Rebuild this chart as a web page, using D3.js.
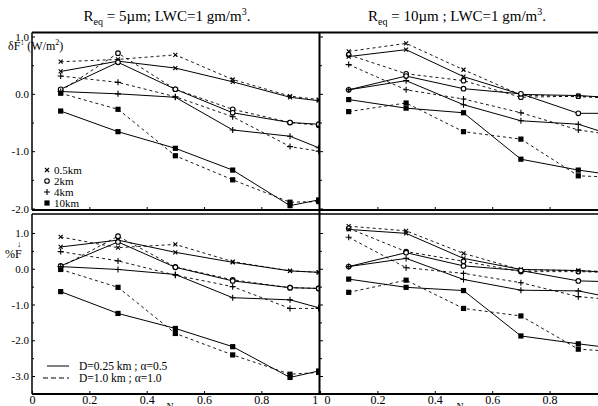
<!DOCTYPE html>
<html>
<head>
<meta charset="utf-8">
<script src="https://cdn.jsdelivr.net/npm/d3@7"></script>
<style>
  body { margin: 0; background: #fff; }
  text { font-family: "Liberation Serif", "DejaVu Serif", serif; fill: #000; }
</style>
</head>
<body>
<div id="chart"></div>
<script>
// N values (cloud fraction) sampled in every panel
const nValues = [0.1, 0.3, 0.5, 0.7, 0.9, 1.0];
const heights = ["0.5km", "2km", "4km", "10km"];

// top left: dF (W/m2), Req = 5um ; rows = 0.5, 2, 4, 10 km
const fluxR5Solid = [
  [0.39, 0.57, 0.45, 0.21, -0.06, -0.12],
  [0.08, 0.55, 0.08, -0.33, -0.50, -0.53],
  [0.04, 0.00, -0.06, -0.63, -0.74, -0.94],
  [-0.30, -0.66, -0.95, -1.33, -1.95, -1.85]
];
const fluxR5Dashed = [
  [0.56, 0.60, 0.68, 0.25, -0.04, -0.10],
  [0.05, 0.71, 0.08, -0.27, -0.50, -0.55],
  [0.31, 0.20, -0.05, -0.40, -0.92, -1.00],
  [0.01, -0.27, -1.08, -1.50, -1.89, -1.88]
];
// top right: dF (W/m2), Req = 10um
const fluxR10Solid = [
  [0.65, 0.77, 0.30, -0.01, -0.03, -0.06],
  [0.07, 0.31, 0.09, 0.00, -0.34, -0.34],
  [0.07, 0.23, -0.19, -0.47, -0.53, -0.69],
  [-0.10, -0.25, -0.33, -1.14, -1.33, -1.40]
];
const fluxR10Dashed = [
  [0.74, 0.88, 0.42, -0.02, -0.05, -0.07],
  [0.68, 0.35, 0.23, -0.06, -0.04, -0.06],
  [0.51, 0.07, -0.09, -0.33, -0.63, -0.70],
  [-0.31, -0.16, -0.66, -0.79, -1.43, -1.45]
];
// bottom left: %F, Req = 5um
const pctR5Solid = [
  [0.61, 0.80, 0.46, 0.18, -0.06, -0.10],
  [0.08, 0.75, 0.04, -0.34, -0.53, -0.55],
  [0.06, -0.02, -0.16, -0.81, -0.87, -1.09],
  [-0.64, -1.25, -1.67, -2.18, -3.04, -2.86]
];
const pctR5Dashed = [
  [0.89, 0.59, 0.68, 0.20, -0.06, -0.10],
  [0.05, 0.91, 0.05, -0.31, -0.53, -0.55],
  [0.48, 0.22, -0.18, -0.50, -1.11, -1.11],
  [-0.02, -0.52, -1.81, -2.41, -2.95, -2.90]
];
// bottom right: %F, Req = 10um
const pctR10Solid = [
  [1.10, 0.99, 0.29, -0.02, -0.05, -0.10],
  [0.06, 0.45, 0.08, -0.05, -0.34, -0.36],
  [0.06, 0.29, -0.30, -0.60, -0.62, -0.78],
  [-0.29, -0.52, -0.61, -1.88, -2.10, -2.20]
];
const pctR10Dashed = [
  [1.19, 1.06, 0.43, -0.03, -0.05, -0.08],
  [1.13, 0.48, 0.21, -0.08, -0.08, -0.10],
  [0.88, 0.03, -0.13, -0.39, -0.78, -0.85],
  [-0.66, -0.32, -1.11, -1.32, -2.25, -2.30]
];

const xTicks = [0, 0.2, 0.4, 0.6, 0.8, 1];
const yTopTicks = [1, 0, -1, -2];
const yTopMinor = [0.5, -0.5, -1.5];
const yBotTicks = [1, 0, -1, -2, -3];
const yBotMinor = [0.5, -0.5, -1.5, -2.5];

const W = 598, H = 406;
const svg = d3.select("#chart").append("svg").attr("width", W).attr("height", H);

// scales
const xLeft = d3.scaleLinear().domain([0, 1]).range([32, 318.7]);
const xRight = d3.scaleLinear().domain([0, 1]).range([320, 607]);
const yTop = d3.scaleLinear().domain([-2, 1]).range([208.5, 36.5]);
const yBot = d3.scaleLinear().domain([-3, 1]).range([376, 233]);

const panels = [
  { id: "tl", solid: fluxR5Solid, dashed: fluxR5Dashed, x: xLeft, y: yTop, box: [32, 33, 287, 177] },
  { id: "tr", solid: fluxR10Solid, dashed: fluxR10Dashed, x: xRight, y: yTop, box: [320, 33, 278, 177] },
  { id: "bl", solid: pctR5Solid, dashed: pctR5Dashed, x: xLeft, y: yBot, box: [32, 214, 287, 180] },
  { id: "br", solid: pctR10Solid, dashed: pctR10Dashed, x: xRight, y: yBot, box: [320, 214, 278, 180] }
];

const defs = svg.append("defs");

function drawMarker(g, type, cx, cy) {
  if (type == 0) {
    g.append("path").attr("d", `M${cx-2},${cy-2}L${cx+2},${cy+2}M${cx-2},${cy+2}L${cx+2},${cy-2}`)
      .attr("stroke", "#000").attr("stroke-width", 1.1);
  } else if (type == 1) {
    g.append("circle").attr("cx", cx).attr("cy", cy).attr("r", 2.3)
      .attr("fill", "#fff").attr("stroke", "#000").attr("stroke-width", 1.1);
  } else if (type == 2) {
    g.append("path").attr("d", `M${cx-3},${cy}L${cx+3},${cy}M${cx},${cy-3}L${cx},${cy+3}`)
      .attr("stroke", "#000").attr("stroke-width", 1.1);
  } else {
    g.append("rect").attr("x", cx - 2.6).attr("y", cy - 2.6).attr("width", 5.2).attr("height", 5.2)
      .attr("fill", "#000");
  }
}

panels.forEach(p => {
  defs.append("clipPath").attr("id", "clip-" + p.id)
    .append("rect").attr("x", p.box[0]).attr("y", p.box[1]).attr("width", p.box[2]).attr("height", p.box[3]);

  const g = svg.append("g").attr("clip-path", `url(#clip-${p.id})`);
  const line = d3.line().x((d, i) => p.x(nValues[i])).y(d => p.y(d));

  [["dashed", p.dashed], ["solid", p.solid]].forEach(([style, rows]) => {
    rows.forEach((vals, h) => {
      g.append("path")
        .attr("d", line(vals))
        .attr("fill", "none")
        .attr("stroke", "#000")
        .attr("stroke-width", style == "solid" ? 1 : 0.9)
        .attr("stroke-dasharray", style == "solid" ? null : "3,3");
      vals.forEach((v, i) => drawMarker(g, h, p.x(nValues[i]), p.y(v)));
    });
  });
});

// axes
function leftAxis(y, major, minor, xPos, labels) {
  svg.append("g").attr("transform", `translate(${xPos},0)`)
    .call(d3.axisLeft(y).tickValues(major).tickSize(-3).tickPadding(3)
      .tickFormat(labels ? (d => d.toFixed(1)) : ""))
    .call(g => g.select(".domain").remove())
    .call(g => g.selectAll("text").style("font-size", "11px").style("font-family", "Liberation Serif"));
  svg.append("g").attr("transform", `translate(${xPos},0)`)
    .call(d3.axisLeft(y).tickValues(minor).tickSize(-2).tickFormat(""))
    .call(g => g.select(".domain").remove());
}
leftAxis(yTop, yTopTicks, yTopMinor, 32, true);
leftAxis(yBot, yBotTicks, yBotMinor, 32, true);
leftAxis(yTop, yTopTicks, yTopMinor, 320, false);
leftAxis(yBot, yBotTicks, yBotMinor, 320, false);

function bottomAxis(x, yPos, labels, ticks, shiftFirst, shiftLast) {
  const ax = svg.append("g").attr("transform", `translate(0,${yPos})`)
    .call(d3.axisBottom(x).tickValues(ticks).tickSize(-3).tickPadding(1)
      .tickFormat(labels ? (d => (d == 0 || d == 1) ? String(d) : d.toFixed(1)) : ""))
    .call(g => g.select(".domain").remove());
  ax.selectAll("text").style("font-size", "12px").style("font-family", "Liberation Serif");
  ax.selectAll("text").filter(d => d == 0).attr("dx", shiftFirst);
  ax.selectAll("text").filter(d => d == 1).attr("dx", shiftLast);
}
bottomAxis(xLeft, 210, false, xTicks.slice(1, 5), 0, 0);
bottomAxis(xRight, 210, false, xTicks.slice(1, 5), 0, 0);
bottomAxis(xLeft, 394, true, xTicks, 0, -4);
bottomAxis(xRight, 394, true, xTicks.slice(0, 5), 7, 0);

// frame
const frame = [
  [32, 32.5, 598, 32.5, 2],
  [32, 210, 598, 210, 2],
  [32, 214, 598, 214, 1.5],
  [32, 394, 598, 394, 2],
  [32, 32.5, 32, 210, 1.5],
  [32, 214, 32, 394, 1.5],
  [319.5, 32.5, 319.5, 394, 2]
];
svg.selectAll(".frame").data(frame).enter().append("line")
  .attr("x1", d => d[0]).attr("y1", d => d[1]).attr("x2", d => d[2]).attr("y2", d => d[3])
  .attr("stroke", "#000").attr("stroke-width", d => d[4]);

// titles
function title(cx, r) {
  const t = svg.append("text").attr("x", cx).attr("y", 21).attr("text-anchor", "middle").style("font-size", "15px");
  t.append("tspan").text("R");
  t.append("tspan").attr("dy", 4).style("font-size", "10px").text("eq");
  t.append("tspan").attr("dy", -4).text(r);
  t.append("tspan").attr("dy", -6).style("font-size", "10px").text("3");
  t.append("tspan").attr("dy", 6).text(".");
}
title(167, " = 5\u00b5m; LWC=1 gm/m");
title(457, " = 10\u00b5m ; LWC=1 gm/m");

// y titles
const yt1 = svg.append("text").attr("x", 8).attr("y", 50).style("font-size", "12px");
yt1.append("tspan").text("\u03b4F");
yt1.append("tspan").attr("dy", -5).style("font-size", "8px").text("\u2193");
yt1.append("tspan").attr("dy", 5).attr("dx", 3).text("(W/m");
yt1.append("tspan").attr("dy", -5).style("font-size", "8px").text("2");
yt1.append("tspan").attr("dy", 5).text(")");

svg.append("text").attr("x", 5).attr("y", 258).style("font-size", "12px").text("%F");
svg.append("text").attr("x", 17).attr("y", 247).style("font-size", "9px").text("\u2193");

// N labels (cut by the bottom edge)
svg.append("text").attr("x", 170).attr("y", 410).attr("text-anchor", "middle").style("font-size", "10px").text("N");
svg.append("text").attr("x", 460).attr("y", 410).attr("text-anchor", "middle").style("font-size", "10px").text("N");

// legend: heights
const legY = [170, 181, 192, 203];
heights.forEach((h, i) => {
  const lg = svg.append("g");
  drawMarker(lg, i, 47, legY[i]);
  svg.append("text").attr("x", 54).attr("y", legY[i] + 3.5).style("font-size", "11px").text(h);
});

// legend: line styles
const styleLabels = ["D=0.25 km ; \u03b1=0.5", "D=1.0 km ; \u03b1=1.0"];
const styleY = [366, 378];
styleLabels.forEach((s, i) => {
  svg.append("line").attr("x1", i == 0 ? 47 : 43).attr("x2", 69).attr("y1", styleY[i]).attr("y2", styleY[i])
    .attr("stroke", "#000").attr("stroke-width", 1).attr("stroke-dasharray", i == 0 ? null : "5,3");
  svg.append("text").attr("x", 79).attr("y", styleY[i] + 4).style("font-size", "11.5px").text(s);
});
</script>
</body>
</html>
